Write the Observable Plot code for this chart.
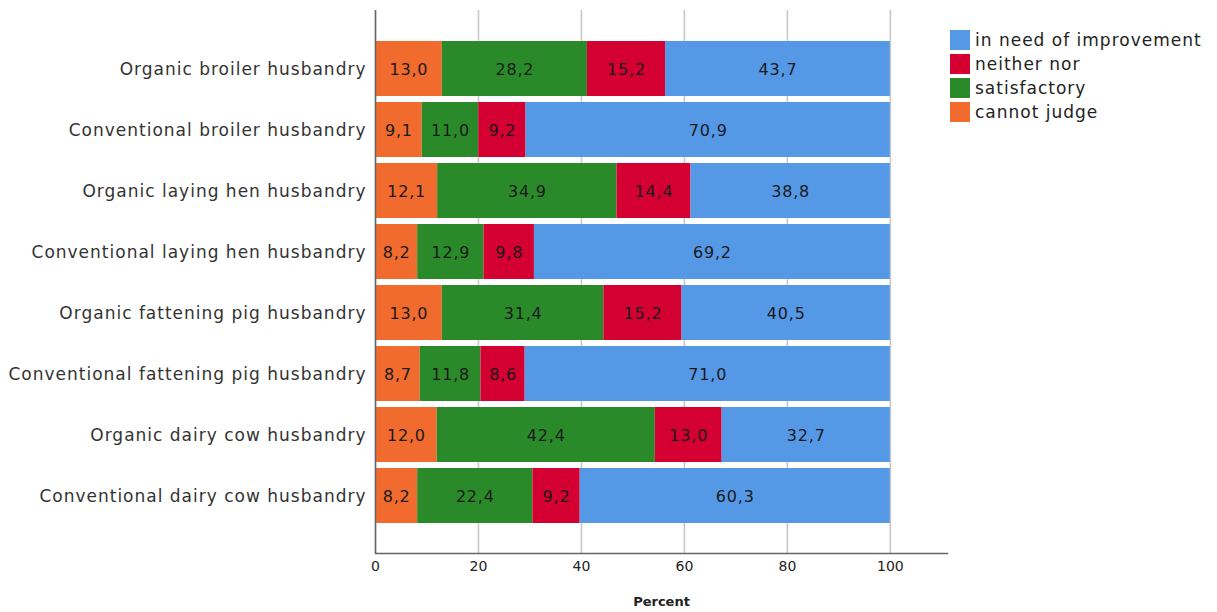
<!DOCTYPE html>
<html>
<head>
<meta charset="utf-8">
<script src="https://cdn.jsdelivr.net/npm/d3@7"></script>
<script src="https://cdn.jsdelivr.net/npm/@observablehq/plot@0.6"></script>
<style>
  body { margin: 0; background: #fff; }
  #wrap { position: relative; width: 1217px; height: 612px; font-family: "DejaVu Sans", Verdana, sans-serif; }
  #wrap svg .cat text { letter-spacing: 1px; }
  #wrap svg .val text { letter-spacing: 0.8px; }
  #legend { position: absolute; left: 950px; top: 28px; font-size: 17px; letter-spacing: 1px; color: #222; }
  #legend .item { display: flex; align-items: center; height: 24px; }
  #legend .sw { width: 20px; height: 20px; margin-right: 5px; }
</style>
</head>
<body>
<div id="wrap"></div>
<script>
// Husbandry systems, top to bottom
const categories = [
  "Organic broiler husbandry",
  "Conventional broiler husbandry",
  "Organic laying hen husbandry",
  "Conventional laying hen husbandry",
  "Organic fattening pig husbandry",
  "Conventional fattening pig husbandry",
  "Organic dairy cow husbandry",
  "Conventional dairy cow husbandry"
];

// Response categories in stacking order (left to right)
const series = ["cannot judge", "satisfactory", "neither nor", "in need of improvement"];

// Percent of respondents per husbandry system
const cannotJudge      = [13.0,  9.1, 12.1,  8.2, 13.0,  8.7, 12.0,  8.2];
const satisfactory     = [28.2, 11.0, 34.9, 12.9, 31.4, 11.8, 42.4, 22.4];
const neitherNor       = [15.2,  9.2, 14.4,  9.8, 15.2,  8.6, 13.0,  9.2];
const needImprovement  = [43.7, 70.9, 38.8, 69.2, 40.5, 71.0, 32.7, 60.3];

// Percent axis ticks
const xTicks = [0, 20, 40, 60, 80, 100];

const palette = ["#f26b2e", "#2a8a2a", "#d50032", "#5598e6"];

const valuesBySeries = [cannotJudge, satisfactory, neitherNor, needImprovement];
const rows = categories.flatMap((category, i) =>
  series.map((s, j) => ({category, series: s, value: valuesBySeries[j][i]}))
);

const fmt = v => v.toFixed(1).replace(".", ",");

// Bars are normalized to shares; the x scale shows them as percent,
// so tick positions are passed as shares too.
const tickShares = xTicks.map(t => t / 100);
const stackOpts = {offset: "normalize", x: "value", y: "category", z: "series"};

const chart = Plot.plot({
  width: 1217,
  height: 612,
  marginLeft: 375,
  marginRight: 270,
  marginTop: 10,
  marginBottom: 59,
  style: {fontFamily: "DejaVu Sans, Verdana, sans-serif", fontSize: "13px", color: "#222", background: "#fff"},
  x: {domain: [0, 111.1], percent: true},
  y: {domain: categories, paddingInner: 0.1, paddingOuter: 0.48},
  color: {domain: series, range: palette},
  marks: [
    Plot.gridX(tickShares, {stroke: "#c8c8c8", strokeOpacity: 1, strokeWidth: 1.6}),
    Plot.barX(rows, Plot.stackX({...stackOpts, fill: "series"})),
    Plot.text(rows, Plot.stackX({...stackOpts, text: d => fmt(d.value), fill: "#1a1a1a", fontSize: 16, dy: 1, className: "val"})),
    Plot.ruleX([0], {stroke: "#666", strokeWidth: 1.5}),
    Plot.frame({anchor: "bottom", stroke: "#666", strokeWidth: 1.5}),
    Plot.axisX(tickShares, {tickSize: 0, tickPadding: 8, label: null, fontSize: 14, tickFormat: d => String(Math.round(d * 100))}),
    Plot.axisY({tickSize: 0, tickPadding: 9, label: null, fontSize: 17, dy: 1, fill: "#333", className: "cat"}),
    Plot.text(["Percent"], {frameAnchor: "bottom", dy: 52, fontWeight: "bold", fontSize: 13, fill: "#222"})
  ]
});

const wrap = document.getElementById("wrap");
wrap.appendChild(chart);

// Legend, listed in reverse stacking order
const legend = document.createElement("div");
legend.id = "legend";
series.slice().reverse().forEach(s => {
  const item = document.createElement("div");
  item.className = "item";
  const sw = document.createElement("span");
  sw.className = "sw";
  sw.style.background = palette[series.indexOf(s)];
  const label = document.createElement("span");
  label.textContent = s;
  item.appendChild(sw);
  item.appendChild(label);
  legend.appendChild(item);
});
wrap.appendChild(legend);
</script>
</body>
</html>
